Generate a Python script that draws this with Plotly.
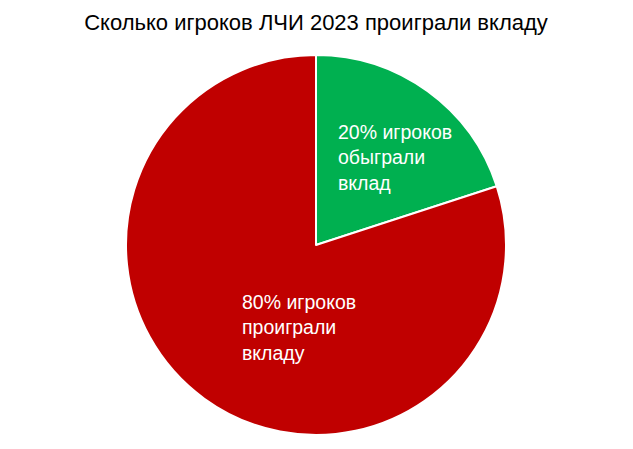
import plotly.graph_objects as go

# share of players, green = beat the deposit, red = lost to it
labels = ["обыграли вклад", "проиграли вкладу"]
values = [20, 80]
colors = ["#00B050", "#C00000"]
label_texts = ["20% игроков<br>обыграли<br>вклад", "80% игроков<br>проиграли<br>вкладу"]

font_family = "Liberation Sans Narrow, Arial Narrow, Liberation Sans, Arial"

fig = go.Figure(go.Pie(
    labels=labels,
    values=values,
    sort=False,
    direction="clockwise",
    rotation=0,
    textinfo="none",
    hoverinfo="label+percent",
    marker=dict(colors=colors, line=dict(color="white", width=2)),
    showlegend=False,
))

# Excel-style left-aligned data labels
label_pos = [(0.532, 0.729), (0.377, 0.282)]
for txt, (x, y) in zip(label_texts, label_pos):
    fig.add_annotation(
        text=txt, x=x, y=y, xref="paper", yref="paper",
        xanchor="left", yanchor="middle", align="left", showarrow=False,
        font=dict(family=font_family, size=19.5, color="white"),
    )

fig.update_layout(
    width=633, height=449,
    margin=dict(l=0, r=17, t=47, b=22),
    title=dict(
        text="Сколько игроков ЛЧИ 2023 проиграли вкладу",
        x=308 / 633, xanchor="center", y=0.969, yanchor="middle",
        font=dict(family=font_family, size=22, color="black"),
    ),
    paper_bgcolor="white",
    plot_bgcolor="white",
)

fig.write_html("out.html")
